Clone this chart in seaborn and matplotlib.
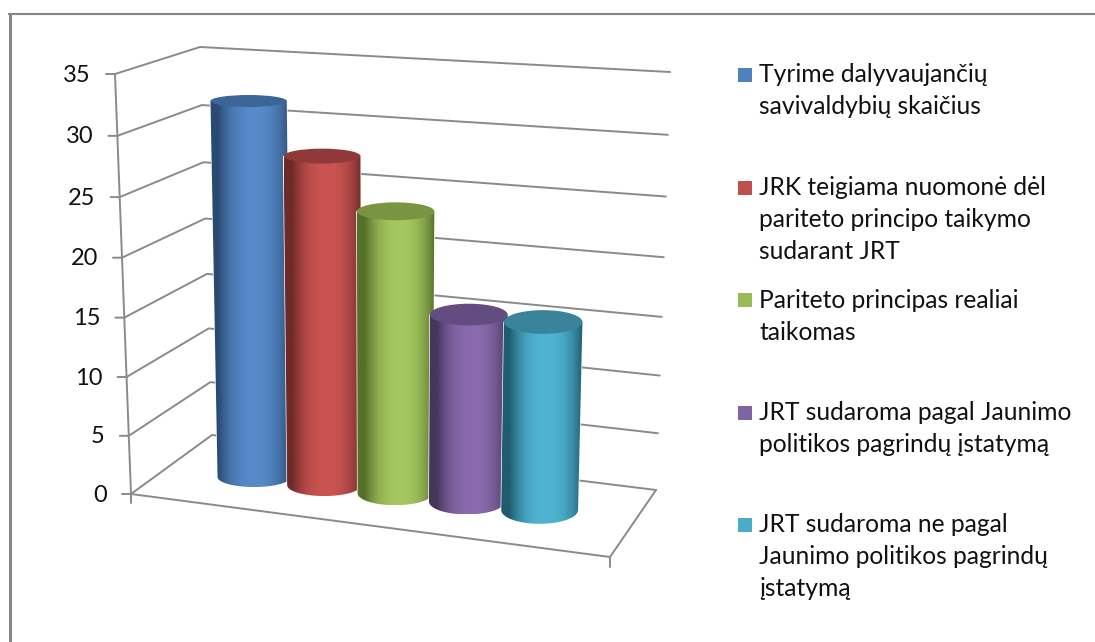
import numpy as np
import matplotlib
matplotlib.use("Agg")
import matplotlib.pyplot as plt
from matplotlib.patches import Polygon, Ellipse, Rectangle
from matplotlib.transforms import Transform
from matplotlib.colors import to_rgb
import pandas as pd
import seaborn as sns

# ---- data ----
categories = [
    "Tyrime dalyvaujančių\nsavivaldybių skaičius",
    "JRK teigiama nuomonė dėl\npariteto principo taikymo\nsudarant JRT",
    "Pariteto principas realiai\ntaikomas",
    "JRT sudaroma pagal Jaunimo\npolitikos pagrindų įstatymą",
    "JRT sudaroma ne pagal\nJaunimo politikos pagrindų\nįstatymą",
]
values = [32, 28, 24, 16, 16]
y_ticks = [0, 5, 10, 15, 20, 25, 30, 35]

# ---- style ----
base_colors = ["#4F81BD", "#C0504D", "#9BBB59", "#8064A2", "#4BACC6"]
light_colors = ["#568AC9", "#CB5452", "#A5C75F", "#8A6BAE", "#4FB4D2"]
edge_colors = ["#2A4A72", "#6E2A28", "#55702A", "#46365C", "#1F5C6E"]
top_colors = ["#3C659A", "#8F3A38", "#7A9542", "#634C7F", "#39849A"]
grid_color = "#8A8A8A"
text_color = "#111111"
FONT = "Lato"

sns.set_theme(style="white")
plt.rcParams["font.family"] = [FONT, "DejaVu Sans"]


def homography(src, dst):
    A, b = [], []
    for (x, y), (u, v) in zip(src, dst):
        A.append([x, y, 1, 0, 0, 0, -u * x, -u * y]); b.append(u)
        A.append([0, 0, 0, x, y, 1, -v * x, -v * y]); b.append(v)
    h = np.linalg.solve(np.array(A, float), np.array(b, float))
    return np.append(h, 1).reshape(3, 3)


def project(H, x, y):
    p = H @ np.array([x, y, np.ones_like(x)], dtype=float)
    return p[0] / p[2], p[1] / p[2]


vmax = y_ticks[-1]
# chart box corners in reference pixels
H_back = homography([(0, 0), (1, 0), (0, vmax), (1, vmax)],
                    [(212, 435), (656, 490), (200, 47), (670, 72)])
H_left = homography([(0, 0), (1, 0), (0, vmax), (1, vmax)],
                    [(131, 494), (212, 435), (115, 74), (200, 47)])
# plane through the bar axes: (category, value) -> pixel
H_bars = homography([(0, 0), (0, values[0]), (4, 0), (4, values[4])],
                    [(254, 477), (248.5, 101), (539.5, 510), (543, 322)])


class BarProjection(Transform):
    """Perspective for one bar: x from the plane, y from the bar's own axis."""
    input_dims = output_dims = 2

    def __init__(self, center):
        super().__init__()
        self.center = center

    def transform_non_affine(self, pts):
        pts = np.asarray(pts, float)
        px, _ = project(H_bars, pts[:, 0], pts[:, 1])
        _, py = project(H_bars, np.full(len(pts), float(self.center)), pts[:, 1])
        return np.column_stack([px, py])


def semi_minor(px, py):
    return 6 + 0.0105 * (py - 101) + 0.012 * (px - 248)


fig, ax = plt.subplots(figsize=(10.95, 6.42), dpi=100)
ax.set_position([0, 0, 1, 1])
df = pd.DataFrame({"cat": categories, "val": values})
sns.barplot(data=df, x="cat", y="val", hue="cat", palette=base_colors,
            width=1.05, legend=False, ax=ax, saturation=1)
bars = [p for p in ax.patches if p.get_height() > 0]
ax.set_xlim(0, 1095)
ax.set_ylim(642, 0)
ax.axis("off")

# outer frame
ax.plot([9.5, 9.5], [642, 13], color="#868686", lw=2.2, zorder=1, solid_capstyle="butt")
ax.plot([8, 1095], [14, 14], color="#868686", lw=1.5, zorder=1, solid_capstyle="butt")

# walls: gridlines, axis lines and ticks
for v in y_ticks:
    fx, fy = project(H_left, np.array([0.0]), np.array([float(v)]))
    bx, by = project(H_back, np.array([0.0, 1.0]), np.array([float(v), float(v)]))
    ax.plot([fx[0] - 9, fx[0], bx[0], bx[1]], [fy[0], fy[0], by[0], by[1]],
            color=grid_color, lw=1.4, zorder=2)
    ax.text(fx[0] - 24, fy[0] + 1, str(v), ha="right", va="center",
            fontsize=17, color=text_color)

ex, ey = project(H_left, np.array([0.0, 0.0]), np.array([0.0, float(vmax)]))
ax.plot(ex, ey, color=grid_color, lw=1.4, zorder=2)
ax.plot([131, 131, 610, 610], [503, 494, 557, 567], color=grid_color, lw=1.4, zorder=2)
ax.plot([610, 656], [557, 490], color=grid_color, lw=1.4, zorder=2)

# cylinders, built on the seaborn bars
for i, bar in enumerate(bars):
    c = bar.get_x() + bar.get_width() / 2
    z = 5 + i
    bar.set_transform(BarProjection(c) + ax.transData)
    bar.set_zorder(z)
    x0, x1 = bar.get_x(), bar.get_x() + bar.get_width()
    h = bar.get_height()
    (bl, br), (yb, _) = project(H_bars, np.array([x0, x1]), np.zeros(2))[0], \
        project(H_bars, np.array([c, c]), np.zeros(2))[1]
    (tl, tr), (yt, _) = project(H_bars, np.array([x0, x1]), np.array([h, h]))[0], \
        project(H_bars, np.array([c, c]), np.array([h, h]))[1]
    bt = semi_minor((tl + tr) / 2, yt)
    bb = semi_minor((bl + br) / 2, yb)

    # side surface: horizontal shading clipped to the silhouette
    t = np.linspace(0, np.pi, 60)
    arc_x = (bl + br) / 2 + (br - bl) / 2 * np.cos(t)
    arc_y = yb + bb * np.sin(t)
    outline = np.column_stack([np.r_[tl, tr, arc_x], np.r_[yt, yt, arc_y]])
    s = np.linspace(0, 1, 256)
    w = np.clip(np.abs(s - 0.55) / 0.45, 0, 1) ** 2.4
    col = np.outer(1 - w, to_rgb(light_colors[i])) + np.outer(w, to_rgb(edge_colors[i]))
    im = ax.imshow(col[np.newaxis, :, :], extent=[min(tl, bl), max(tr, br), yb + bb, yt],
                   aspect="auto", zorder=z + 0.1, interpolation="bilinear")
    clip = Polygon(outline, closed=True, transform=ax.transData)
    im.set_clip_path(clip)

    ax.add_patch(Ellipse(((tl + tr) / 2, yt), tr - tl, 2 * bt, facecolor=top_colors[i],
                         edgecolor="none", zorder=z + 0.2))

ax.set_xlim(0, 1095)
ax.set_ylim(642, 0)

# legend
legend_y = [75, 187.5, 300, 413, 525]
for color, label, ly in zip(base_colors, categories, legend_y):
    ax.add_patch(Rectangle((738, ly - 7), 14, 14, facecolor=color, edgecolor="none", zorder=3))
    for k, line in enumerate(label.split("\n")):
        ax.text(759, ly + 32 * k, line, ha="left", va="center", fontsize=17.7,
                color=text_color)

fig.savefig("out.png", dpi=100)
